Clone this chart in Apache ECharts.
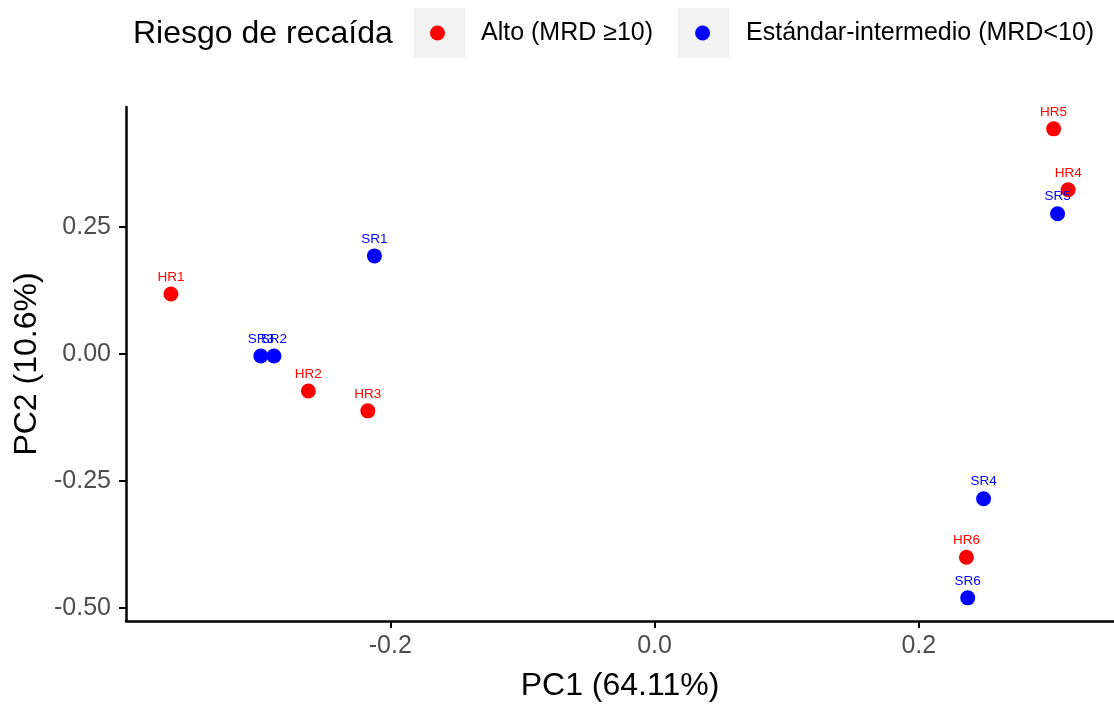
<!DOCTYPE html>
<html>
<head>
<meta charset="utf-8">
<script src="https://cdn.jsdelivr.net/npm/echarts@6/dist/echarts.min.js"></script>
<style>
html,body{margin:0;padding:0;background:#fff;}
#chart{width:1114px;height:705px;}
</style>
</head>
<body>
<div id="chart"></div>
<script>
// Data
const highLabels = ['HR1','HR2','HR3','HR4','HR5','HR6'];
const highPC1 = [-0.366, -0.262, -0.217, 0.313, 0.302, 0.236];
const highPC2 = [0.118, -0.073, -0.112, 0.323, 0.443, -0.400];
const stdLabels = ['SR1','SR2','SR3','SR4','SR5','SR6'];
const stdPC1 = [-0.212, -0.288, -0.298, 0.249, 0.305, 0.237];
const stdPC2 = [0.193, -0.004, -0.004, -0.285, 0.276, -0.480];
const seriesNames = ['Alto (MRD \u226510)', 'Est\u00e1ndar-intermedio (MRD<10)'];
const legendTitle = 'Riesgo de reca\u00edda';
const xTicks = [-0.2, 0.0, 0.2];
const yTicks = [0.25, 0.00, -0.25, -0.50];

const FONT = '"Liberation Sans", Arial, Helvetica, sans-serif';
const mk = (xs, ys, ls) => xs.map((x, i) => [x, ys[i], ls[i]]);

const chart = echarts.init(document.getElementById('chart'), null, {renderer: 'canvas'});

function labelStyle(color) {
  return {
    show: true, position: 'top', distance: 2.5,
    formatter: p => p.data[2],
    color: color, fontSize: 13.5, fontFamily: FONT
  };
}

const option = {
  animation: false,
  textStyle: {fontFamily: FONT},
  grid: {left: 126, top: 107, right: 0, bottom: 84, containLabel: false, outerBoundsMode: 'none'},
  xAxis: {
    type: 'value', min: -0.4, max: 0.3477,
    name: 'PC1 (64.11%)', nameLocation: 'middle', nameGap: 49,
    nameTextStyle: {fontSize: 32, color: '#000', fontFamily: FONT},
    axisLine: {show: true, onZero: false, lineStyle: {color: '#000', width: 2.5}},
    axisTick: {show: true, length: 7, customValues: xTicks, lineStyle: {color: '#000', width: 2}},
    axisLabel: {
      fontSize: 25, color: '#4d4d4d', margin: 13,
      customValues: xTicks,
      formatter: v => v.toFixed(1)
    },
    splitLine: {show: false}
  },
  yAxis: {
    type: 'value', min: -0.5256, max: 0.486,
    name: 'PC2 (10.6%)', nameLocation: 'middle', nameGap: 82,
    nameTextStyle: {fontSize: 32, color: '#000', fontFamily: FONT},
    axisLine: {show: true, onZero: false, lineStyle: {color: '#000', width: 2.5}},
    axisTick: {show: true, length: 7, customValues: yTicks, lineStyle: {color: '#000', width: 2}},
    axisLabel: {
      fontSize: 25, color: '#4d4d4d', margin: 15,
      customValues: yTicks,
      formatter: v => v.toFixed(2)
    },
    splitLine: {show: false}
  },
  legend: {
    left: 430, top: 20.5, padding: 0,
    itemWidth: 15, itemHeight: 15, itemGap: 42,
    icon: 'circle',
    data: seriesNames,
    textStyle: {fontSize: 25, color: '#000', fontFamily: FONT, padding: [0, 0, 0, 31]}
  },
  graphic: [
    {type: 'rect', left: 414, top: 8, shape: {width: 51, height: 50}, style: {fill: '#f2f2f2'}, z: -1},
    {type: 'rect', left: 678, top: 8, shape: {width: 51, height: 50}, style: {fill: '#f2f2f2'}, z: -1},
    {type: 'text', left: 133, top: 18, style: {text: legendTitle, fontSize: 32, fill: '#000', fontFamily: FONT}}
  ],
  series: [
    {
      name: seriesNames[0], type: 'scatter', symbolSize: 15,
      itemStyle: {color: '#ff0000', opacity: 1},
      label: labelStyle('#ff0000'),
      data: mk(highPC1, highPC2, highLabels)
    },
    {
      name: seriesNames[1], type: 'scatter', symbolSize: 15,
      itemStyle: {color: '#0000ff', opacity: 1},
      label: labelStyle('#0000ff'),
      data: mk(stdPC1, stdPC2, stdLabels)
    }
  ]
};
chart.setOption(option);
</script>
</body>
</html>
